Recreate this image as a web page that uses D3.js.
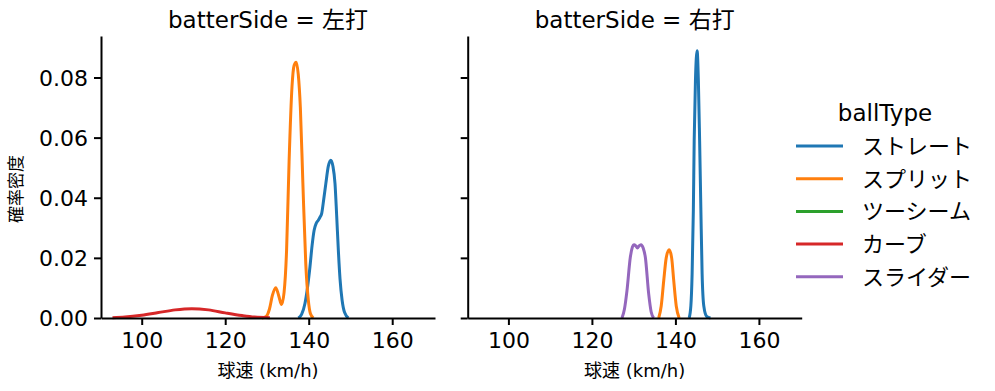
<!DOCTYPE html>
<html>
<head>
<meta charset="utf-8">
<script src="https://cdn.jsdelivr.net/npm/d3@7"></script>
<style>
  body { margin: 0; background: #fff; }
  svg text { font-family: "DejaVu Sans", "Noto Sans CJK JP", sans-serif; fill: #000; }
  .axis path, .axis line { stroke: #000; stroke-width: 2px; }
  .axis text { font-size: 22px; font-family: "DejaVu Sans", sans-serif; }
</style>
</head>
<body>
<div id="chart"></div>
<script>
// ---- data (speed km/h, density) ----
var panels = ["左打", "右打"];
var ballTypes = ["ストレート", "スプリット", "ツーシーム", "カーブ", "スライダー"];
var colors = ["#1f77b4", "#ff7f0e", "#2ca02c", "#d62728", "#9467bd"];
var xTicks = [100, 120, 140, 160];
var yTicks = [0, 0.02, 0.04, 0.06, 0.08];

var leftStraight = [[137.5,0],[138.3,0.0012],[139.1,0.0048],[139.7,0.010],[140.3,0.017],[140.8,0.024],
  [141.3,0.0292],[141.8,0.0315],[142.3,0.0325],[142.7,0.0335],[143.1,0.0347],[143.6,0.0395],
  [144.1,0.0447],[144.7,0.0505],[145.3,0.0525],[145.8,0.0505],[146.3,0.0447],[146.7,0.034],
  [147.1,0.0225],[147.5,0.013],[148.0,0.0059],[148.6,0.0018],[149.5,0]];
var leftSplit = [[128.8,0],[129.8,0.0005],[130.6,0.003],[131.3,0.0075],[132.1,0.0101],[132.8,0.0075],
  [133.5,0.0045],[134.1,0.0085],[134.7,0.0225],[135.3,0.052],[136.0,0.077],[136.5,0.084],
  [137.0,0.0851],[137.5,0.081],[138.0,0.070],[138.6,0.045],[139.3,0.018],[139.9,0.006],
  [140.4,0.0015],[141.1,0]];
var leftCurve = [[93.0,0.0001],[96,0.0003],[100,0.0009],[104,0.0018],[108,0.0027],[112,0.0031],
  [116,0.0027],[120,0.0017],[124,0.0008],[127,0.0003],[130.7,0.0001]];

var rightStraight = [[143.3,0],[143.7,0.004],[144.0,0.0146],[144.3,0.036],[144.5,0.059],[144.8,0.079],
  [145.2,0.0889],[145.5,0.079],[145.8,0.059],[146.1,0.036],[146.4,0.0146],[146.8,0.004],
  [147.5,0.0005],[148.4,0]];
var rightSplit = [[136.0,0],[136.6,0.004],[137.2,0.0124],[137.8,0.020],[138.5,0.0227],[139.1,0.020],
  [139.6,0.0124],[140.2,0.004],[140.9,0]];
var rightSlider = [[127.2,0],[127.8,0.003],[128.4,0.0091],[129.2,0.0202],[129.7,0.0236],[130.1,0.0244],
  [130.5,0.0240],[130.9,0.0233],[131.3,0.0240],[131.75,0.0244],[132.3,0.0232],[132.8,0.0202],
  [133.6,0.008],[134.2,0.002],[134.8,0]];

var series = [
  [{type: 0, pts: leftStraight}, {type: 1, pts: leftSplit}, {type: 3, pts: leftCurve}],
  [{type: 4, pts: rightSlider}, {type: 1, pts: rightSplit}, {type: 0, pts: rightStraight}]
];

var W = 995, H = 391;
var svg = d3.select("#chart").append("svg").attr("width", W).attr("height", H);

var panelLeft = [101, 467.7], panelW = 334;
var plotTop = 36, plotBottom = 318;

var y = d3.scaleLinear().domain([0, 0.0938]).range([plotBottom, plotTop]);

panels.forEach(function(name, i){
  var x = d3.scaleLinear().domain([90.25, 170.25]).range([panelLeft[i], panelLeft[i] + panelW]);
  var g = svg.append("g");

  var line = d3.line()
    .x(function(d){ return x(d[0]); })
    .y(function(d){ return y(d[1]); })
    .curve(d3.curveMonotoneX);

  series[i].forEach(function(s){
    g.append("path")
      .datum(s.pts)
      .attr("d", line)
      .attr("fill", "none")
      .attr("stroke", colors[s.type])
      .attr("stroke-width", 3)
      .attr("stroke-linejoin", "round");
  });

  g.append("g").attr("class", "axis")
    .attr("transform", "translate(0," + plotBottom + ")")
    .call(d3.axisBottom(x).tickValues(xTicks).tickSize(7).tickPadding(6).tickSizeOuter(0))
    .selectAll("text").attr("dy", "0.75em");

  var ya = g.append("g").attr("class", "axis")
    .attr("transform", "translate(" + panelLeft[i] + ",0)")
    .call(d3.axisLeft(y).tickValues(yTicks).tickFormat(d3.format(".2f")).tickSize(7).tickPadding(6).tickSizeOuter(0));
  if (i == 1) ya.selectAll("text").remove();
  else ya.selectAll("text").attr("dy", "0.36em");

  svg.append("text")
    .attr("x", panelLeft[i] + panelW / 2)
    .attr("y", 28)
    .attr("text-anchor", "middle")
    .style("font-size", "23px")
    .text("batterSide = " + name);

  svg.append("text")
    .attr("x", panelLeft[i] + panelW / 2)
    .attr("y", 377)
    .attr("text-anchor", "middle")
    .style("font-size", "18px")
    .text("球速 (km/h)");
});

// y axis title
svg.append("text")
  .attr("transform", "translate(22," + ((plotTop + plotBottom) / 2 + 12) + ") rotate(-90)")
  .attr("text-anchor", "middle")
  .style("font-size", "17px")
  .text("確率密度");

// legend
var lg = svg.append("g");
lg.append("text")
  .attr("x", 885).attr("y", 121)
  .attr("text-anchor", "middle")
  .style("font-size", "23px")
  .text("ballType");

ballTypes.forEach(function(t, i){
  var yy = 146 + i * 32.7;
  lg.append("line")
    .attr("x1", 796).attr("x2", 843)
    .attr("y1", yy).attr("y2", yy)
    .attr("stroke", colors[i]).attr("stroke-width", 3);
  lg.append("text")
    .attr("x", 862).attr("y", yy)
    .attr("dy", "0.36em")
    .style("font-size", "22px")
    .text(t);
});
</script>
</body>
</html>
